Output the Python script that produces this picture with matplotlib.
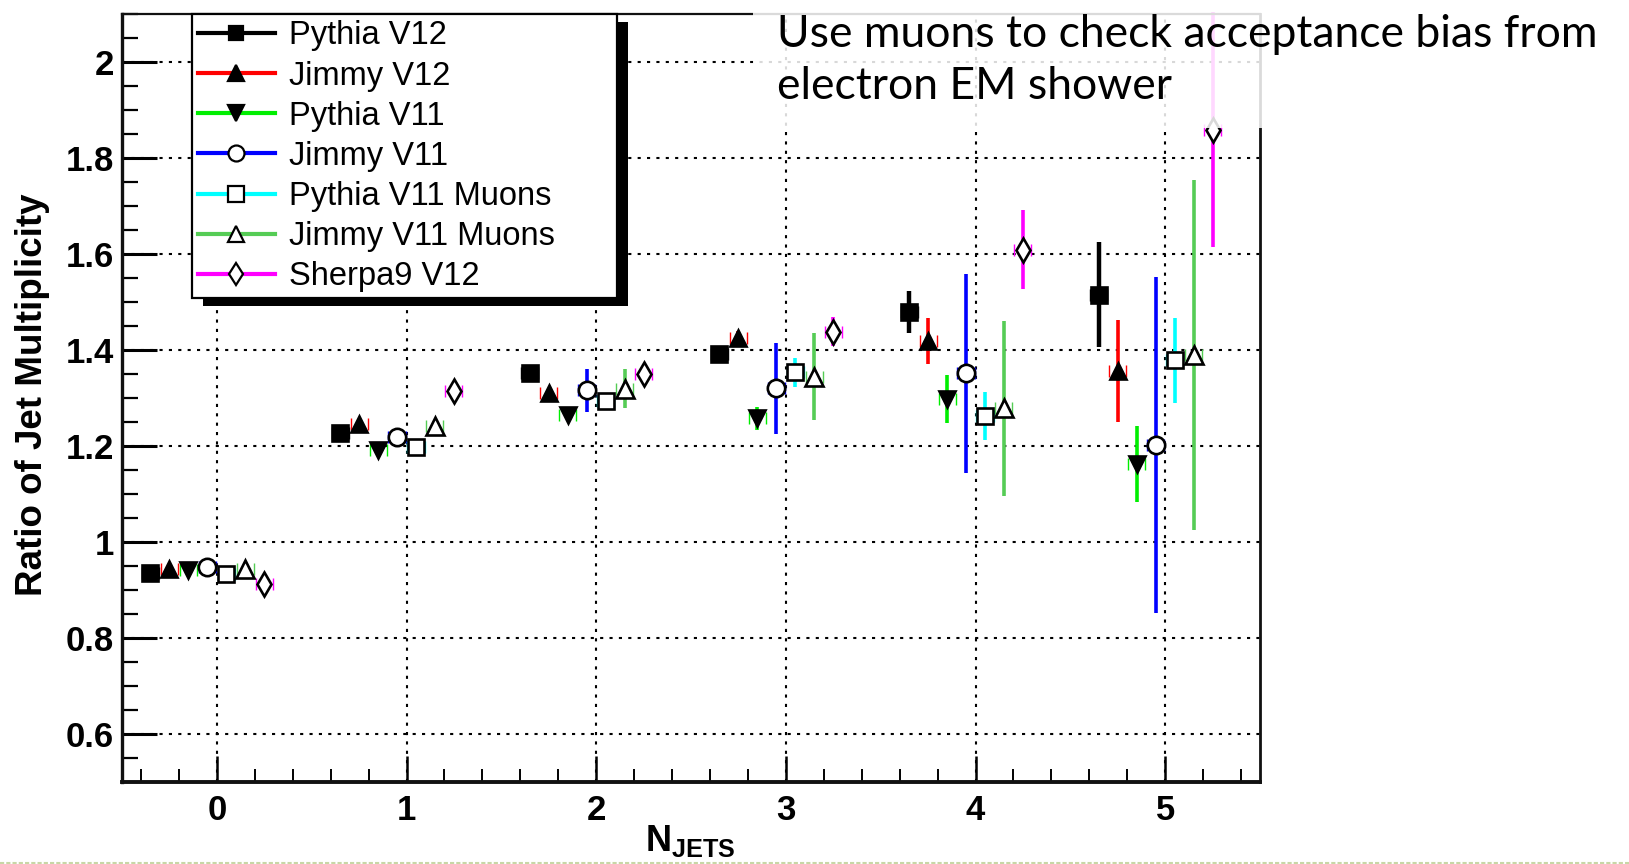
import matplotlib
matplotlib.use("Agg")
import matplotlib.pyplot as plt
from matplotlib.lines import Line2D
from matplotlib.patches import Rectangle
from matplotlib.ticker import MultipleLocator, FuncFormatter

# ---- data -----------------------------------------------------------------
n_jets = [0, 1, 2, 3, 4, 5]
x_tick_labels = ["0", "1", "2", "3", "4", "5"]

series_names = ["Pythia V12", "Jimmy V12", "Pythia V11", "Jimmy V11",
                "Pythia V11 Muons", "Jimmy V11 Muons", "Sherpa9 V12"]

pythia_v12 = [0.935, 1.227, 1.352, 1.393, 1.479, 1.516]
pythia_v12_err = [0.005, 0.006, 0.008, 0.012, 0.044, 0.110]

jimmy_v12 = [0.945, 1.246, 1.310, 1.425, 1.419, 1.357]
jimmy_v12_err = [0.005, 0.007, 0.009, 0.015, 0.048, 0.107]

pythia_v11 = [0.941, 1.193, 1.265, 1.258, 1.299, 1.163]
pythia_v11_err = [0.005, 0.008, 0.012, 0.024, 0.050, 0.080]

jimmy_v11 = [0.948, 1.220, 1.317, 1.321, 1.352, 1.202]
jimmy_v11_err = [0.006, 0.010, 0.045, 0.095, 0.207, 0.350]

pythia_v11_mu = [0.934, 1.199, 1.294, 1.354, 1.262, 1.379]
pythia_v11_mu_err = [0.005, 0.008, 0.012, 0.030, 0.050, 0.088]

jimmy_v11_mu = [0.945, 1.243, 1.320, 1.345, 1.279, 1.390]
jimmy_v11_mu_err = [0.006, 0.010, 0.040, 0.090, 0.183, 0.365]

sherpa9_v12 = [0.912, 1.315, 1.350, 1.439, 1.610, 1.860]
sherpa9_v12_err = [0.005, 0.008, 0.012, 0.030, 0.082, 0.245]

values = [pythia_v12, jimmy_v12, pythia_v11, jimmy_v11,
          pythia_v11_mu, jimmy_v11_mu, sherpa9_v12]
errors = [pythia_v12_err, jimmy_v12_err, pythia_v11_err, jimmy_v11_err,
          pythia_v11_mu_err, jimmy_v11_mu_err, sherpa9_v12_err]

# ---- styles ---------------------------------------------------------------
colors = ["#000000", "#ff0000", "#00ee00", "#0000ff", "#00ffff", "#55cc55", "#ff00ff"]
markers = ["s", "^", "v", "o", "s", "^", "d"]
filled = [True, True, True, False, False, False, False]
msizes = [11.5, 12, 12, 12.5, 12, 12.5, 12.5]
bar_widths = [3.2, 2.6, 2.6, 2.6, 2.6, 2.6, 2.6]

plt.rcParams["font.family"] = ["Liberation Sans", "DejaVu Sans"]
plt.rcParams["mathtext.fontset"] = "custom"
plt.rcParams["mathtext.rm"] = "Liberation Sans:bold"
plt.rcParams["mathtext.bf"] = "Liberation Sans:bold"
plt.rcParams["mathtext.it"] = "Liberation Sans:bold"

W, H = 1629, 864
fig = plt.figure(figsize=(W / 100, H / 100), dpi=100)
fig.patch.set_facecolor("white")

ax_l, ax_r, ax_t, ax_b = 122, 1260, 14.5, 782
ax = fig.add_axes([ax_l / W, 1 - ax_b / H, (ax_r - ax_l) / W, (ax_b - ax_t) / H])

ax.set_xlim(-0.5, 5.5)
ax.set_ylim(0.5, 2.1)

grid_style = (0, (1.5, 3.0))
ax.grid(True, which="major", color="black", linestyle=grid_style, linewidth=1.5, zorder=0)
ax.set_axisbelow(True)

# ---- points with error bars ----------------------------------------------
for i in range(len(series_names)):
    offset = -0.35 + 0.1 * i
    xs = [n + offset for n in n_jets]
    ys = values[i]
    es = errors[i]
    big = i == len(series_names) - 1
    ax.errorbar(xs, ys, yerr=es, fmt="none", ecolor=colors[i],
                elinewidth=bar_widths[i], capsize=0, zorder=2,
                clip_on=not big)
    ax.errorbar(xs, ys, xerr=0.045, fmt="none", ecolor=colors[i],
                elinewidth=0, capsize=4, capthick=1.0, zorder=2)
    face = "black" if filled[i] else "white"
    ax.plot(xs, ys, linestyle="none", marker=markers[i], markersize=msizes[i],
            markerfacecolor=face, markeredgecolor="black", markeredgewidth=1.9,
            zorder=3)

# ---- axes decoration -------------------------------------------------------
ax.xaxis.set_minor_locator(MultipleLocator(0.2))
ax.set_xticks(n_jets)
ax.set_xticklabels(x_tick_labels)
ax.yaxis.set_major_locator(MultipleLocator(0.2))
ax.yaxis.set_minor_locator(MultipleLocator(0.05))
ax.yaxis.set_major_formatter(FuncFormatter(lambda v, p: f"{v:g}"))

ax.tick_params(axis="both", which="both", direction="in", top=False, right=False,
               labelsize=25, color="black")
ax.tick_params(axis="y", which="major", length=25, width=2.2, pad=6)
ax.tick_params(axis="y", which="minor", length=11.5, width=1.6)
ax.tick_params(axis="x", which="major", length=19, width=1.8, pad=9)
ax.tick_params(axis="x", which="minor", length=9.5, width=1.4)
for lab in ax.get_xticklabels() + ax.get_yticklabels():
    lab.set_fontweight("bold")

ax.spines["left"].set_linewidth(2.4)
ax.spines["bottom"].set_linewidth(2.8)
ax.spines["right"].set_linewidth(2.0)
ax.spines["top"].set_linewidth(1.6)
for s in ax.spines.values():
    s.set_color("#111111")

fig.text(33 / W, 1 - 395 / H, "Ratio of Jet Multiplicity", rotation=90,
         ha="center", va="center", fontsize=26.5, fontweight="bold")
fig.text(690 / W, 1 - 851 / H, r"$\mathbf{N}_{\mathbf{JETS}}$", ha="center",
         va="baseline", fontsize=26, zorder=6,
         bbox=dict(facecolor="white", edgecolor="none", pad=1))

# ---- legend ----------------------------------------------------------------
handles = []
for i in range(len(series_names)):
    face = "black" if filled[i] else "white"
    handles.append(Line2D([], [], color=colors[i], linewidth=3, marker=markers[i],
                          markersize=msizes[i] - 1, markerfacecolor=face,
                          markeredgecolor="black", markeredgewidth=1.6))
leg_x0 = (192 - ax_l) / (ax_r - ax_l)
leg_w = (617 - 192) / (ax_r - ax_l)
leg_y0 = 1 - (300 - ax_t) / (ax_b - ax_t)
leg = ax.legend(handles, series_names, loc="upper left",
                bbox_to_anchor=(leg_x0, leg_y0, leg_w, 1.0 - leg_y0),
                mode="expand", borderaxespad=0, fancybox=False, framealpha=1,
                edgecolor="black", fontsize=23.5, handlelength=2.35,
                handletextpad=0.45, labelspacing=0.28, borderpad=0.18, numpoints=1)
leg.get_frame().set_linewidth(1.6)
leg.set_zorder(6)

fig.canvas.draw()
bb = leg.get_window_extent()
inv = ax.transAxes.inverted()
sx0, sy0 = inv.transform((bb.x0 + 11, bb.y0 - 8))
sx1, sy1 = inv.transform((bb.x1 + 11, bb.y1 - 8))
ax.add_patch(Rectangle((sx0, sy0), sx1 - sx0, sy1 - sy0, transform=ax.transAxes,
                       facecolor="black", edgecolor="none", zorder=5.5, clip_on=False))

# ---- note box --------------------------------------------------------------
fig.add_artist(Rectangle((753 / W, 1 - 128 / H), 1 - 753 / W, 128 / H,
                         transform=fig.transFigure, facecolor="white",
                         edgecolor="none", alpha=0.85, zorder=7))
fig.text(777 / W, 1 - 14 / H, "Use muons to check acceptance bias from\nelectron EM shower",
         ha="left", va="top", fontsize=32, family=["Lato", "DejaVu Sans"],
         linespacing=1.34, zorder=8)

# thin slide rule along the bottom edge
fig.add_artist(Line2D([0, 1], [1 - 862.5 / H] * 2, transform=fig.transFigure,
                      color="#c8d6a6", linewidth=1.5, linestyle=(0, (2, 1)), zorder=5))

fig.savefig("out.png", dpi=100)
